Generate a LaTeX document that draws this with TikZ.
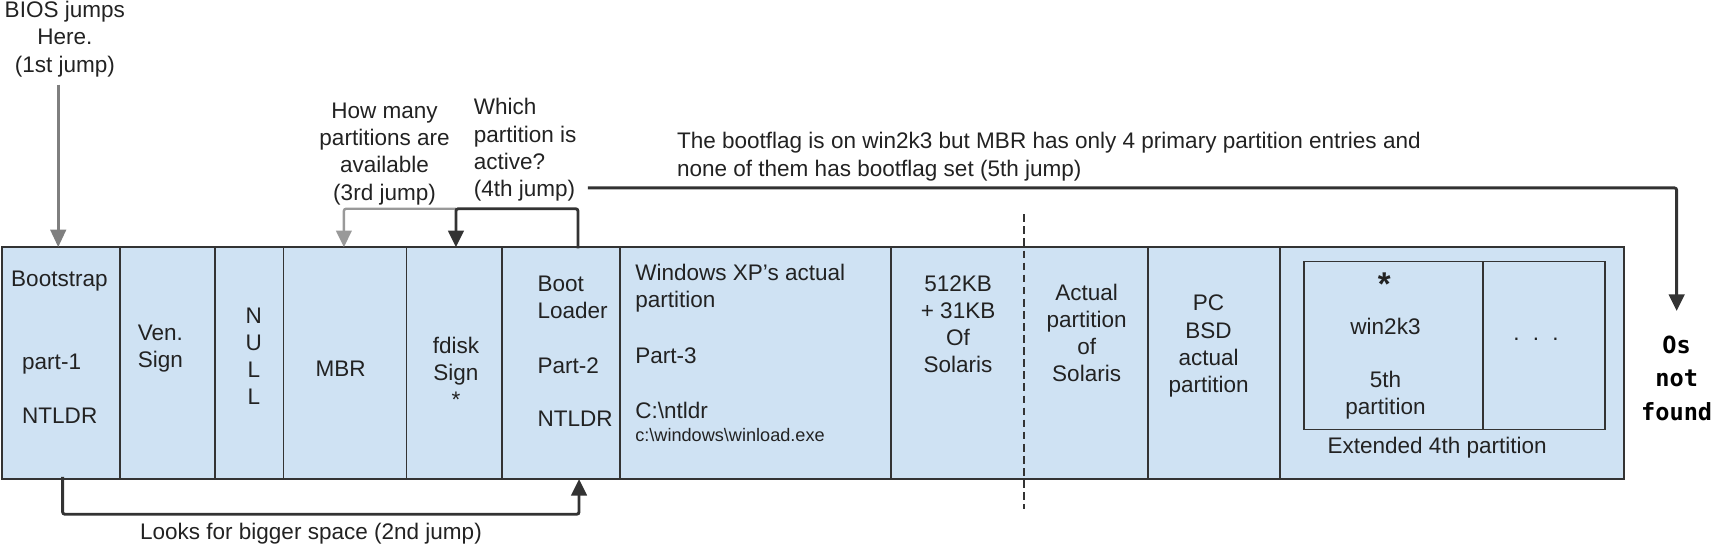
\documentclass[tikz,border=0pt]{standalone}
\usepackage{fontspec}
\setmainfont{Liberation Sans}
\newfontfamily\monob{DejaVu Sans Mono}
\usetikzlibrary{arrows.meta}
\definecolor{boxfill}{HTML}{CFE2F3}
\definecolor{edge}{HTML}{333333}
\definecolor{jumpgray}{HTML}{7F7F7F}
\definecolor{lightjump}{HTML}{999999}
\definecolor{ink}{HTML}{222222}
\begin{document}
\begin{tikzpicture}[x=1pt,y=-1pt,
  every node/.style={font=\fontsize{20.5}{24.8}\selectfont, text=ink, inner sep=0pt},
  part/.style={draw=edge, fill=boxfill, line width=1.6pt, minimum height=211pt},
  innerbox/.style={draw=edge, line width=1.6pt, minimum height=153pt},
  darkjump/.style={draw=edge, line width=2.6pt, rounded corners=2pt, -{Triangle[length=15pt,width=14pt]}},
  grayjump/.style={draw=lightjump, line width=2.2pt, rounded corners=2pt, -{Triangle[length=15pt,width=14pt]}},
  biosjump/.style={draw=jumpgray, line width=3pt, -{Triangle[length=16pt,width=14pt]}},
  sep/.style={draw=edge, line width=1.6pt, dash pattern=on 7pt off 4pt},
  small/.style={font=\fontsize{16.5}{20}\selectfont},
  mono/.style={font=\monob\bfseries\fontsize{21.5}{30.5}\selectfont, text=black}
]
\useasboundingbox (0,0) rectangle (1560,495);

% partitions
\node[part, minimum width=107pt] (b1) at (55.5,330.5) {};
\node[part, minimum width=87pt]  (b2) at (152.5,330.5) {};
\node[part, minimum width=62pt]  (b3) at (227,330.5) {};
\node[part, minimum width=112pt] (b4) at (314,330.5) {};
\node[part, minimum width=87pt]  (b5) at (413.5,330.5) {};
\node[part, minimum width=107pt] (b6) at (510.5,330.5) {};
\node[part, minimum width=247pt] (b7) at (687.5,330.5) {};
\node[part, minimum width=234pt] (b8) at (928,330.5) {};
\node[part, minimum width=120pt] (b9) at (1105,330.5) {};
\node[part, minimum width=313pt] (b10) at (1321.5,330.5) {};
\node[innerbox, minimum width=163pt] (in1) at (1268.5,314.5) {};
\node[innerbox, minimum width=111pt] (in2) at (1405.5,314.5) {};

% dashed separator
\coordinate (dashtop) at (932,195);
\coordinate (dashbot) at (932,463);
\draw[sep] (dashtop) -- (dashbot);

% connectors
\coordinate (biosS) at (53,77);
\coordinate (biosE) at (53,225);
\draw[biosjump] (biosS) -- (biosE);

\coordinate (j2s) at (57,434);
\coordinate (j2e) at (527,436);
\draw[darkjump] (j2s) -- ++(0,34) -| (j2e);

\coordinate (j3s) at (415,190);
\coordinate (j3e) at (313,225);
\draw[grayjump] (j3s) -| (j3e);

\coordinate (j4s) at (526,226);
\coordinate (j4e) at (415,225);
\draw[darkjump] (j4s) -- ++(0,-36) -| (j4e);

\coordinate (j5s) at (535,171);
\coordinate (j5e) at (1526,283);
\draw[darkjump] (j5s) -| (j5e);

% labels above / below
\node[align=center] (bios) at (59,35.5) {BIOS jumps\\Here.\\(1st jump)};
\node[align=center] (howmany) at (350,140) {How many\\partitions are\\available\\(3rd jump)};
\node[align=left, anchor=west] (which) at (431,136.5) {Which\\partition is\\active?\\(4th jump)};
\node[align=left, anchor=west] (fifth) at (616,142.5) {The bootflag is on win2k3 but MBR has only 4 primary partition entries and\\none of them has bootflag set (5th jump)};
\node (looks) at (283,486) {Looks for bigger space (2nd jump)};

% texts in partitions
\node[anchor=west] (t1a) at (10,256) {Bootstrap};
\node[anchor=west] (t1b) at (20,331) {part-1};
\node[anchor=west] (t1c) at (20,378) {NTLDR};
\node[align=center] (t2) at (146,317.5) {Ven.\\Sign};
\node[align=center, font=\fontsize{20.5}{24.7}\selectfont] (t3) at (231,324) {N\\U\\L\\L};
\node (t4) at (310,336) {MBR};
\node[align=center] (t5) at (415,339) {fdisk\\Sign\\*};
\node[align=left, anchor=west] (t6a) at (489,270.5) {Boot\\Loader};
\node[anchor=west] (t6b) at (489,333) {Part-2};
\node[anchor=west] (t6c) at (489,381) {NTLDR};
\node[align=left, anchor=west] (t7a) at (578,262) {Windows XP’s actual\\partition};
\node[anchor=west] (t7b) at (578,324) {Part-3};
\node[anchor=west] (t7c) at (578,374) {C:\textbackslash ntldr};
\node[anchor=west, small] (t7d) at (578,396) {c:\textbackslash windows\textbackslash winload.exe};
\node[align=center] (t8a) at (872,295) {512KB\\+ 31KB\\Of\\Solaris};
\node[align=center] (t8b) at (989,303) {Actual\\partition\\of\\Solaris};
\node[align=center] (t9) at (1100,315) {PC\\BSD\\actual\\partition};
\node[font=\bfseries\fontsize{30}{30}\selectfont] (star) at (1260,259) {*};
\node (win) at (1261,297) {win2k3};
\node[align=center] (fifthpart) at (1261,359.5) {5th\\partition};
\node (dots) at (1398,309) {.\hspace{12pt}.\hspace{12pt}.};
\node (ext) at (1308,407) {Extended 4th partition};
\node[mono, align=center] (osnf) at (1526,344) {Os\\not\\found};
\end{tikzpicture}
\end{document}
